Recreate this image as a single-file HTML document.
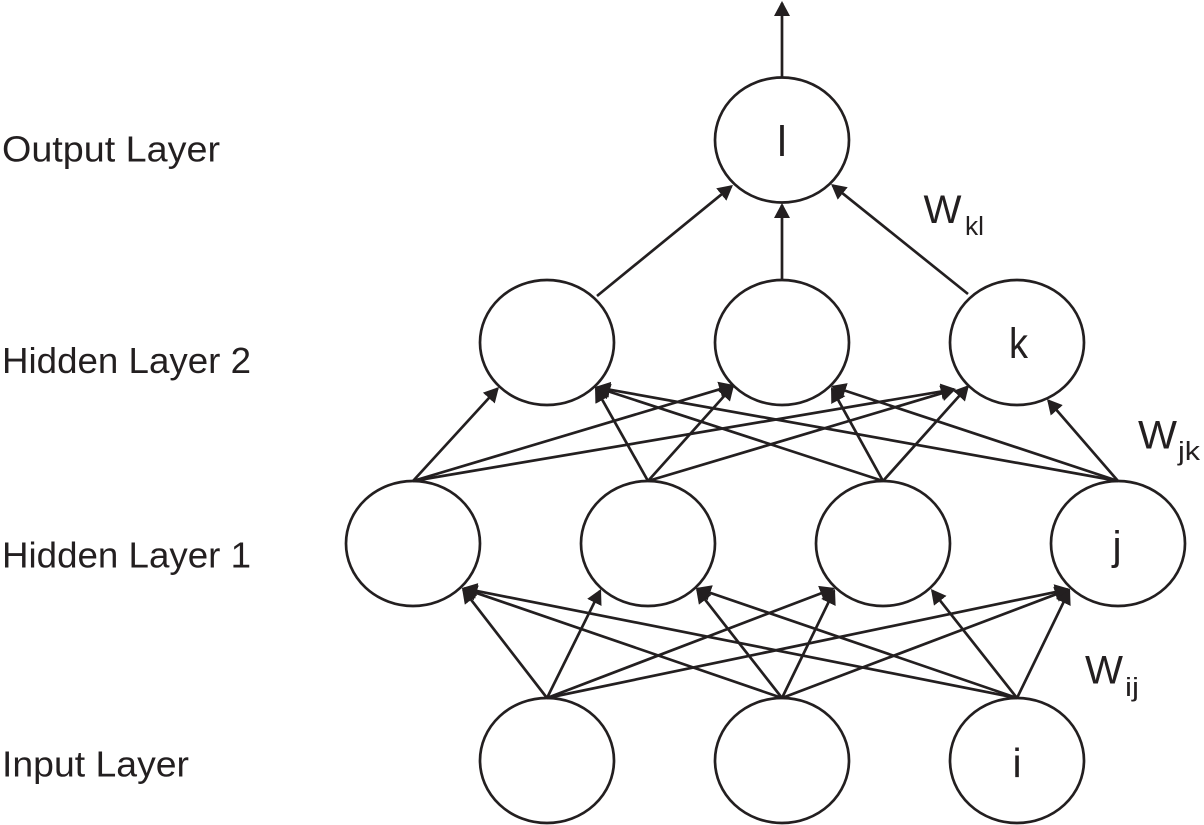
<!DOCTYPE html>
<html>
<head>
<meta charset="utf-8">
<style>
html,body{margin:0;padding:0;background:#fff;width:1204px;height:825px;overflow:hidden}
svg{display:block}
text{font-family:"Liberation Sans",sans-serif;fill:#231f20}
</style>
</head>
<body>
<svg width="1204" height="825" viewBox="0 0 1204 825" xmlns="http://www.w3.org/2000/svg">
<defs>
<marker id="a" markerUnits="userSpaceOnUse" markerWidth="18" markerHeight="18" refX="13" refY="8" orient="auto">
<path d="M0,0 L15,8 L0,16 Z" fill="#231f20"/>
</marker>
</defs>
<g fill="none" stroke="#231f20" stroke-width="2.7">
<ellipse cx="782" cy="140" rx="67" ry="62.5"/>
<ellipse cx="547" cy="342.500" rx="67" ry="62.500"/>
<ellipse cx="782" cy="342.500" rx="67" ry="62.500"/>
<ellipse cx="1017" cy="342.500" rx="67" ry="62.500"/>
<ellipse cx="413" cy="543.500" rx="67" ry="62.500"/>
<ellipse cx="648" cy="543.500" rx="67" ry="62.500"/>
<ellipse cx="883" cy="543.500" rx="67" ry="62.500"/>
<ellipse cx="1118" cy="543.500" rx="67" ry="62.500"/>
<ellipse cx="547" cy="760.500" rx="67" ry="62.500"/>
<ellipse cx="782" cy="760.500" rx="67" ry="62.500"/>
<ellipse cx="1017" cy="760.500" rx="67" ry="62.500"/>
</g>
<g stroke="#231f20" stroke-width="2.7" fill="none">
<line x1="782" y1="78" x2="782" y2="3" marker-end="url(#a)"/>
<line x1="782" y1="280" x2="782" y2="205" marker-end="url(#a)"/>
<line x1="597" y1="296" x2="731.4" y2="186.3" marker-end="url(#a)"/>
<line x1="968" y1="294" x2="832.6" y2="185.3" marker-end="url(#a)"/>

<line x1="413" y1="481" x2="497.6" y2="388.5" marker-end="url(#a)"/>
<line x1="648" y1="481" x2="596" y2="388.7" marker-end="url(#a)"/>
<line x1="883" y1="481" x2="596.9" y2="387.6" marker-end="url(#a)"/>
<line x1="1118" y1="481" x2="597" y2="387.4" marker-end="url(#a)"/>
<line x1="413" y1="481" x2="732.1" y2="385.6" marker-end="url(#a)"/>
<line x1="648" y1="481" x2="732.7" y2="386.5" marker-end="url(#a)"/>
<line x1="413" y1="481" x2="954" y2="389.3" marker-end="url(#a)"/>
<line x1="648" y1="481" x2="954.1" y2="389.6" marker-end="url(#a)"/>
<line x1="883" y1="481" x2="967.7" y2="386.5" marker-end="url(#a)"/>
<line x1="883" y1="481" x2="832" y2="388.8" marker-end="url(#a)"/>
<line x1="1118" y1="481" x2="832.9" y2="386.6" marker-end="url(#a)"/>
<line x1="1118" y1="481" x2="1048.3" y2="400.5" marker-end="url(#a)"/>

<line x1="547" y1="698" x2="463.2" y2="589.6" marker-end="url(#a)"/>
<line x1="782" y1="698" x2="463.9" y2="588.7" marker-end="url(#a)"/>
<line x1="1017" y1="698" x2="464" y2="588.4" marker-end="url(#a)"/>
<line x1="547" y1="698" x2="600.1" y2="590.8" marker-end="url(#a)"/>
<line x1="782" y1="698" x2="697.2" y2="589.6" marker-end="url(#a)"/>
<line x1="1017" y1="698" x2="697.9" y2="588.6" marker-end="url(#a)"/>
<line x1="547" y1="698" x2="833.1" y2="588.7" marker-end="url(#a)"/>
<line x1="782" y1="698" x2="834.1" y2="590.8" marker-end="url(#a)"/>
<line x1="1017" y1="698" x2="932.2" y2="590.6" marker-end="url(#a)"/>
<line x1="547" y1="698" x2="1068" y2="589.4" marker-end="url(#a)"/>
<line x1="782" y1="698" x2="1068.1" y2="589.7" marker-end="url(#a)"/>
<line x1="1017" y1="698" x2="1069.1" y2="590.8" marker-end="url(#a)"/>
</g>
<g font-size="36">
<text x="2" y="161.500" textLength="218" lengthAdjust="spacingAndGlyphs">Output Layer</text>
<text x="2" y="373" textLength="249" lengthAdjust="spacingAndGlyphs">Hidden Layer 2</text>
<text x="2" y="567.500" textLength="249" lengthAdjust="spacingAndGlyphs">Hidden Layer 1</text>
<text x="2" y="776.500" textLength="187" lengthAdjust="spacingAndGlyphs">Input Layer</text>
</g>
<g font-size="42.500">
<text x="782" y="156" text-anchor="middle">l</text>
<text x="1009" y="358" textLength="19" lengthAdjust="spacingAndGlyphs">k</text>
<text x="1117" y="559.500" font-size="41" text-anchor="middle">j</text>
<text x="1017" y="777" font-size="41" text-anchor="middle">i</text>
</g>
<g font-size="40">
<text x="923.500" y="223" textLength="38" lengthAdjust="spacingAndGlyphs">W</text>
<text x="1138" y="448.500" textLength="39" lengthAdjust="spacingAndGlyphs">W</text>
<text x="1085" y="683.500" textLength="38" lengthAdjust="spacingAndGlyphs">W</text>
</g>
<g font-size="25.500">
<text x="965" y="235" textLength="19" lengthAdjust="spacingAndGlyphs">kl</text>
<text x="1178" y="460" textLength="22" lengthAdjust="spacingAndGlyphs">jk</text>
<text x="1125" y="696" textLength="14" lengthAdjust="spacingAndGlyphs">ij</text>
</g>
</svg>
</body>
</html>
